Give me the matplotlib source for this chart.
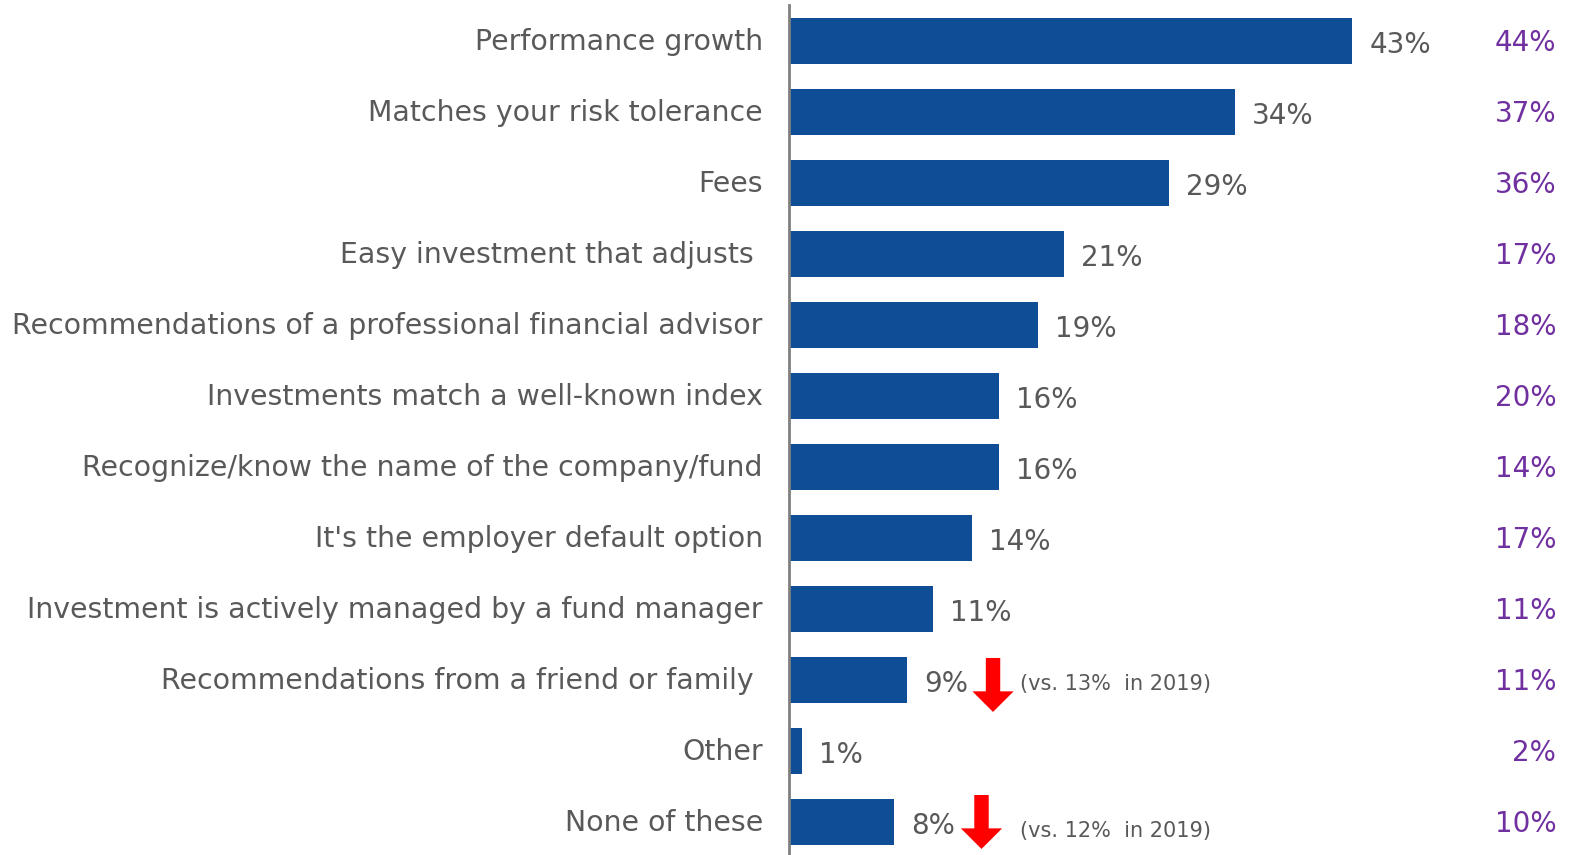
import matplotlib.pyplot as plt
from matplotlib.patches import FancyArrow

categories = [
    "Performance growth",
    "Matches your risk tolerance",
    "Fees",
    "Easy investment that adjusts ",
    "Recommendations of a professional financial advisor",
    "Investments match a well-known index",
    "Recognize/know the name of the company/fund",
    "It's the employer default option",
    "Investment is actively managed by a fund manager",
    "Recommendations from a friend or family ",
    "Other",
    "None of these",
]
values_2021 = [43, 34, 29, 21, 19, 16, 16, 14, 11, 9, 1, 8]
values_other = [44, 37, 36, 17, 18, 20, 14, 17, 11, 11, 2, 10]
# rows with a significant drop: row index -> note
drops = {9: "(vs. 13%  in 2019)", 11: "(vs. 12%  in 2019)"}

bar_color = "#0F4E96"
text_color = "#595959"
purple = "#7030A0"
font = "DejaVu Sans"

fig = plt.figure(figsize=(15.7, 8.55), dpi=100)
ax = fig.add_axes([789 / 1570, 0, 1 - 789 / 1570, 1])

y = list(range(len(categories)))
ax.barh(y, values_2021, height=0.66, color=bar_color)
ax.set_xlim(0, 59.6)
ax.set_ylim(11.465, -0.577)

for i, v in enumerate(values_2021):
    ax.text(v + 1.3, i + 0.05, f"{v}%", va="center", ha="left",
            fontsize=20, color=text_color, family=font)
    ax.text(-2.0, i + 0.02, categories[i], va="center", ha="right",
            fontsize=20.4, color=text_color, family=font)

for i, v in enumerate(values_other):
    ax.text(58.55, i + 0.03, f"{v}%", va="center", ha="right",
            fontsize=20, color=purple, family=font)

# red "down" arrows next to the 9% and 8% labels
arrow_dx = {9: 6.57, 11: 6.69}
arrow_top = {9: -0.31, 11: -0.38}
for i, note in drops.items():
    v = values_2021[i]
    ax.add_patch(FancyArrow(v + arrow_dx[i], i + arrow_top[i], 0, 0.76,
                            width=1.1, head_width=3.15, head_length=0.29,
                            length_includes_head=True, color="#FF0000", lw=0))
    ax.text(17.65, i + 0.05 + (0.08 if i == 11 else 0), note, va="center",
            ha="left", fontsize=15, color=text_color, family=font)

for s in ["top", "right", "bottom"]:
    ax.spines[s].set_visible(False)
ax.spines["left"].set_color("#808080")
ax.spines["left"].set_linewidth(2)
ax.spines["left"].set_bounds(11.465, -0.5)
ax.set_xticks([])
ax.set_yticks([])

fig.savefig("out.png", dpi=100)
